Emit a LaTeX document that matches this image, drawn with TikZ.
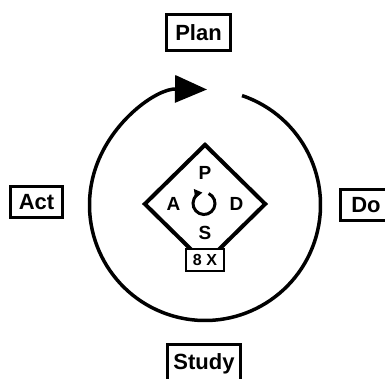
\documentclass[tikz,border=0pt]{standalone}
\usepackage{fontspec}
\setmainfont{Liberation Sans}
\usetikzlibrary{arrows.meta,shapes.geometric}
\begin{document}
\begin{tikzpicture}[x=1pt,y=1pt,
  lbl/.style={draw, line width=3pt, fill=white, inner sep=0pt,
    font=\fontsize{22}{22}\selectfont\bfseries},
  letter/.style={inner sep=0pt, font=\fontsize{19}{19}\selectfont\bfseries},
  cyc/.style={line width=3.5pt, -{Triangle[length=32pt,width=27pt]}},
  smallcyc/.style={line width=3pt, -{Triangle[length=8pt,width=9pt]}}]
\useasboundingbox (0,0) rectangle (385,379);
% outer cycle
\coordinate (c) at (205,174);
\draw[cyc] ([shift={(71.3:115.5)}]c) arc[start angle=71.3, end angle=-271, radius=115.5];
% labels
\node[lbl, minimum width=64pt, minimum height=36pt] (plan) at (198.5,346.5) {Plan};
\node[lbl, minimum width=52pt, minimum height=31pt] (act) at (36.5,176.5) {Act};
\node[lbl, minimum width=51pt, minimum height=31pt] (do) at (366,174) {Do};
\node[lbl, minimum width=73pt, minimum height=38pt] (study) at (204,15) {Study};
% inner diamond
\node[diamond, draw, line width=4pt, minimum width=122pt, minimum height=120pt, inner sep=0pt] (pdsa) at (205,175) {};
\node[letter] (p) at (205,206.5) {P};
\node[letter] (a) at (173.5,175.5) {A};
\node[letter] (d) at (236.5,175.5) {D};
\node[letter] (s) at (205,146.5) {S};
\coordinate (ca) at (204,175.5);
\draw[smallcyc] ([shift={(65:11)}]ca) arc[start angle=65, end angle=-262, radius=11];
\node[draw, line width=2pt, fill=white, inner sep=0pt, minimum width=38pt, minimum height=22pt,
  font=\fontsize{16}{16}\selectfont\bfseries] (times) at (205,119) {8 X};
\end{tikzpicture}
\end{document}
